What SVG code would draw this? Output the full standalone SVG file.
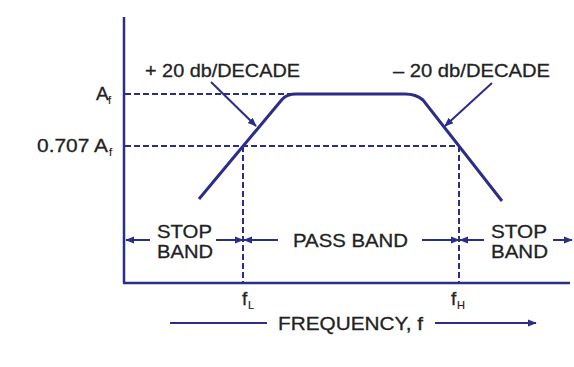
<svg xmlns="http://www.w3.org/2000/svg" width="574" height="367" viewBox="0 0 574 367">
<style>
.ln{stroke:#2b2d86;fill:none;stroke-width:2.5}
.cv{stroke:#2b2d86;fill:none;stroke-width:3}
.ds{stroke:#2b2d86;fill:none;stroke-width:2;stroke-dasharray:6 3}
.ar{stroke:#2b2d86;fill:none;stroke-width:2}
.t{font-family:"Liberation Sans",Arial,sans-serif;font-size:19px;fill:#222;stroke:#222;stroke-width:0.3}
.s{font-family:"Liberation Sans",Arial,sans-serif;font-size:11px;fill:#222;stroke:#222;stroke-width:0.2}
</style>
<defs>
<marker id="ah" viewBox="0 0 10 10" refX="9" refY="5" markerWidth="4.5" markerHeight="4.5" orient="auto" markerUnits="strokeWidth">
<path d="M0,1 L10,5 L0,9 z" fill="#2b2d86"/>
</marker>
</defs>
<rect width="574" height="367" fill="#ffffff"/>
<g id="axes">
<line class="ln" x1="124" y1="17" x2="124" y2="283"/>
<line class="ln" x1="123" y1="283" x2="570" y2="283"/>
</g>
<g id="guides">
<line class="ds" x1="125" y1="94" x2="292" y2="94"/>
<line class="ds" x1="125" y1="146" x2="460" y2="146"/>
<line class="ds" x1="243" y1="146" x2="243" y2="282"/>
<line class="ds" x1="459" y1="146" x2="459" y2="282"/>
</g>
<g id="curve">
<path class="cv" d="M199,199 L282,99.5 Q287,94 296,94 L405,94 Q416,94 423,100 L502,201"/>
</g>
<g id="connectors">
<line class="ar" x1="211" y1="82" x2="256" y2="126" marker-end="url(#ah)"/>
<line class="ar" x1="492" y1="83" x2="445" y2="126" marker-end="url(#ah)"/>
<line class="ar" x1="150" y1="240" x2="126" y2="240" marker-end="url(#ah)"/>
<line class="ar" x1="216" y1="240" x2="243" y2="240" marker-end="url(#ah)"/>
<line class="ar" x1="278" y1="240" x2="244" y2="240" marker-end="url(#ah)"/>
<line class="ar" x1="422" y1="240" x2="459" y2="240" marker-end="url(#ah)"/>
<line class="ar" x1="484" y1="240" x2="460" y2="240" marker-end="url(#ah)"/>
<line class="ar" x1="553" y1="240" x2="572" y2="240" marker-end="url(#ah)"/>
<line class="ar" x1="170" y1="323" x2="267" y2="323"/>
<line class="ar" x1="435" y1="323" x2="536" y2="323" marker-end="url(#ah)"/>
</g>
<g id="labels">
<text class="t" x="145" y="77" textLength="155" lengthAdjust="spacingAndGlyphs">+ 20 db/DECADE</text>
<text class="t" x="393" y="77" textLength="157" lengthAdjust="spacingAndGlyphs">– 20 db/DECADE</text>
<text class="t" x="96" y="100">A</text>
<text class="s" x="108" y="104">f</text>
<text class="t" x="37" y="152" textLength="71" lengthAdjust="spacingAndGlyphs">0.707 A</text>
<text class="s" x="109" y="156">f</text>
<text class="t" x="157" y="238" textLength="55" lengthAdjust="spacingAndGlyphs">STOP</text>
<text class="t" x="157" y="258" textLength="56" lengthAdjust="spacingAndGlyphs">BAND</text>
<text class="t" x="293" y="247" textLength="115" lengthAdjust="spacingAndGlyphs">PASS BAND</text>
<text class="t" x="491" y="238" textLength="56" lengthAdjust="spacingAndGlyphs">STOP</text>
<text class="t" x="491" y="258" textLength="57" lengthAdjust="spacingAndGlyphs">BAND</text>
<text class="t" x="242" y="305">f</text>
<text class="s" x="248" y="309">L</text>
<text class="t" x="451" y="305">f</text>
<text class="s" x="457" y="309">H</text>
<text class="t" x="278" y="330" textLength="145" lengthAdjust="spacingAndGlyphs">FREQUENCY, f</text>
</g>
</svg>
